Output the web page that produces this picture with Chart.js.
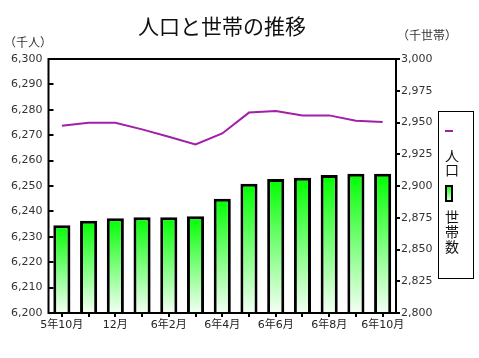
<!DOCTYPE html>
<html>
<head>
<meta charset="utf-8">
<script src="https://cdn.jsdelivr.net/npm/chart.js@4"></script>
<style>
html,body{margin:0;padding:0;background:#fff;}
#wrap{width:479px;height:358px;position:relative;}
</style>
</head>
<body>
<div id="wrap"><canvas id="c" width="479" height="358"></canvas></div>
<script>
// ---- data ----
const categories = ['5年10月','11月','12月','6年1月','2月','3月','4月','5月','6月','7月','8月','9月','10月'];
const xTickLabels = ['5年10月','','12月','','6年2月','','6年4月','','6年6月','','6年8月','','6年10月'];
const population = [6273.7,6274.9,6274.9,6272.3,6269.4,6266.4,6270.7,6278.9,6279.5,6277.8,6277.8,6275.7,6275.2];
const households = [2869.1,2872.7,2874.6,2875.4,2875.4,2876.1,2890.0,2901.7,2905.5,2906.5,2908.7,2909.7,2909.7];
const titleText = '人口と世帯の推移';
const leftUnit = '（千人）';
const rightUnit = '（千世帯）';
const legendPop = '人口';
const legendHh = '世帯数';

const FONT = '"DejaVu Sans","Noto Sans CJK JP",sans-serif';
const CJK = '"Noto Sans CJK JP",sans-serif';
const PURPLE = '#a21fa8';

function barGradient(ctx, top, bottom){
  const g = ctx.createLinearGradient(0, top, 0, bottom);
  g.addColorStop(0, '#00ff00');
  g.addColorStop(1, '#f4fff4');
  return g;
}

const decorPlugin = {
  id: 'decor',
  afterDraw(chart){
    const ctx = chart.ctx;
    const a = chart.chartArea;
    const yl = chart.scales.yL, yr = chart.scales.yR, x = chart.scales.x;
    ctx.save();
    // frame
    ctx.strokeStyle = '#000';
    ctx.lineWidth = 2;
    ctx.strokeRect(a.left, a.top, a.right - a.left, a.bottom - a.top);
    // tick marks
    ctx.lineWidth = 2;
    ctx.beginPath();
    yl.ticks.forEach(t => {
      const py = Math.round(yl.getPixelForValue(t.value));
      ctx.moveTo(a.left, py); ctx.lineTo(a.left + 5, py);
    });
    yr.ticks.forEach(t => {
      const py = Math.round(yr.getPixelForValue(t.value));
      ctx.moveTo(a.right, py); ctx.lineTo(a.right + 4, py);
    });
    categories.forEach((c, i) => {
      const px = Math.round(x.getPixelForValue(i));
      ctx.moveTo(px, a.bottom); ctx.lineTo(px, a.bottom + 4);
    });
    ctx.stroke();
    // title
    ctx.fillStyle = '#111';
    ctx.font = '21px ' + CJK;
    ctx.textAlign = 'center';
    ctx.textBaseline = 'middle';
    ctx.fillText(titleText, 222, 26);
    // units
    ctx.fillStyle = '#333';
    ctx.font = '12px ' + CJK;
    ctx.textAlign = 'left';
    ctx.fillText(leftUnit, 4, 42);
    ctx.fillText(rightUnit, 397, 35);
    // legend
    ctx.strokeStyle = '#000';
    ctx.lineWidth = 1;
    ctx.strokeRect(438.5, 111.5, 35, 167);
    ctx.strokeStyle = PURPLE;
    ctx.lineWidth = 2;
    ctx.beginPath(); ctx.moveTo(445, 131); ctx.lineTo(453, 131); ctx.stroke();
    ctx.fillStyle = '#111';
    ctx.font = '14px ' + CJK;
    ctx.textAlign = 'center';
    ctx.textBaseline = 'middle';
    const lx = 452;
    [...legendPop].forEach((ch, i) => ctx.fillText(ch, lx, 156 + i * 14));
    ctx.fillStyle = barGradient(ctx, 185, 202);
    ctx.fillRect(445, 185, 8, 17);
    ctx.strokeStyle = '#000';
    ctx.lineWidth = 2;
    ctx.strokeRect(446, 186, 6, 15);
    ctx.fillStyle = '#111';
    [...legendHh].forEach((ch, i) => ctx.fillText(ch, lx, 217 + i * 15));
    ctx.restore();
  }
};

new Chart(document.getElementById('c'), {
  data: {
    labels: categories,
    datasets: [
      {
        type: 'line',
        label: legendPop,
        data: population,
        yAxisID: 'yL',
        borderColor: PURPLE,
        borderWidth: 2,
        pointRadius: 0,
        tension: 0,
        fill: false,
        order: 0
      },
      {
        type: 'bar',
        label: legendHh,
        data: households,
        yAxisID: 'yR',
        borderColor: '#000',
        borderWidth: 3,
        borderSkipped: false,
        categoryPercentage: 1,
        barPercentage: 0.64,
        backgroundColor: (c) => {
          const chart = c.chart;
          const s = chart.scales.yR;
          const a = chart.chartArea;
          if (!s || !a || c.raw == null) return '#00ff00';
          return barGradient(chart.ctx, s.getPixelForValue(c.raw), a.bottom);
        },
        order: 1
      }
    ]
  },
  plugins: [decorPlugin],
  options: {
    responsive: false,
    animation: false,
    layout: { padding: { top: 59, left: 0, right: 0, bottom: 0 } },
    plugins: { legend: { display: false }, tooltip: { enabled: false }, title: { display: false } },
    scales: {
      x: {
        type: 'category',
        offset: true,
        grid: { display: false, drawTicks: false },
        border: { display: false },
        ticks: {
          autoSkip: false, maxRotation: 0, padding: 6,
          color: '#222', font: { size: 11, family: FONT },
          callback: (v, i) => xTickLabels[i]
        },
        afterFit: (s) => { s.height = 45; }
      },
      yL: {
        position: 'left',
        min: 6200, max: 6300,
        grid: { display: false, drawTicks: false },
        border: { display: false },
        ticks: {
          stepSize: 10, padding: 6, color: '#333',
          font: { size: 11, family: FONT },
          callback: (v) => v.toLocaleString('en-US')
        },
        afterFit: (s) => { s.width = 48.5; }
      },
      yR: {
        position: 'right',
        min: 2800, max: 3000,
        grid: { display: false, drawTicks: false },
        border: { display: false },
        ticks: {
          stepSize: 25, padding: 5, color: '#333',
          font: { size: 11, family: FONT },
          callback: (v) => v.toLocaleString('en-US')
        },
        afterFit: (s) => { s.width = 83; }
      }
    }
  }
});
</script>
</body>
</html>
